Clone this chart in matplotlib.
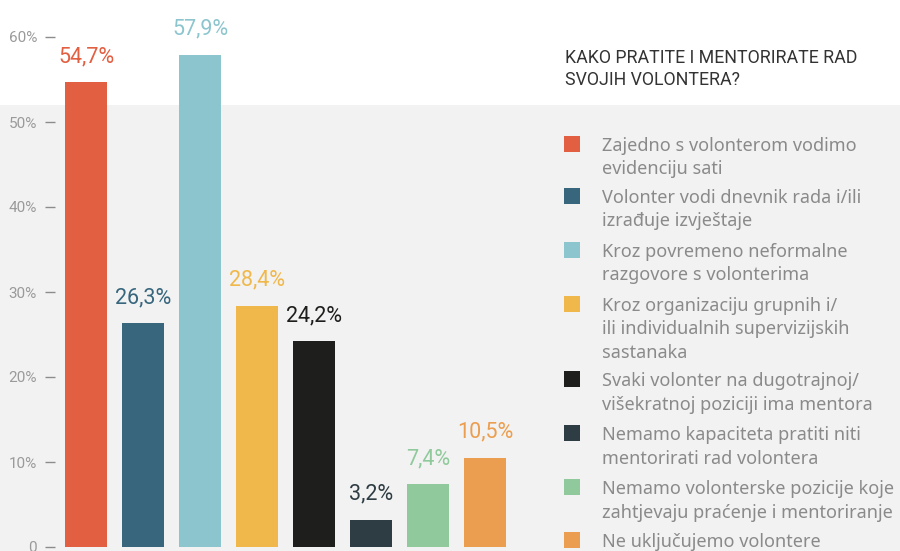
import matplotlib
matplotlib.use("Agg")
import matplotlib.pyplot as plt
from matplotlib.patches import Rectangle

# ---- data ----
categories = [
    "Zajedno s volonterom vodimo\nevidenciju sati",
    "Volonter vodi dnevnik rada i/ili\nizrađuje izvještaje",
    "Kroz povremeno neformalne\nrazgovore s volonterima",
    "Kroz organizaciju grupnih i/\nili individualnih supervizijskih\nsastanaka",
    "Svaki volonter na dugotrajnoj/\nvišekratnoj poziciji ima mentora",
    "Nemamo kapaciteta pratiti niti\nmentorirati rad volontera",
    "Nemamo volonterske pozicije koje\nzahtjevaju praćenje i mentoriranje",
    "Ne uključujemo volontere",
]
values = [54.7, 26.3, 57.9, 28.4, 24.2, 3.2, 7.4, 10.5]
value_labels = ["54,7%", "26,3%", "57,9%", "28,4%", "24,2%", "3,2%", "7,4%", "10,5%"]
colors = ["#e25f42", "#37667d", "#8dc5cf", "#f0b84b", "#1e1e1c", "#2e3c43", "#90c99b", "#eb9e50"]
yticks = [0, 10, 20, 30, 40, 50, 60]
ytick_labels = ["0", "10%", "20%", "30%", "40%", "50%", "60%"]
title = "KAKO PRATITE I MENTORIRATE RAD\nSVOJIH VOLONTERA?"

W, H = 900, 551
fig = plt.figure(figsize=(W / 100, H / 100), dpi=100, facecolor="white")

def fx(px):
    return px / W

def fy(py):
    return 1 - py / H

# grey band
fig.patches.append(Rectangle((0, 0), 1, fy(105), transform=fig.transFigure,
                             facecolor="#f2f2f2", edgecolor="none", zorder=-10))

ax_left, ax_right = 55, 520
ax_bottom, ax_top = 547, 37
ax = fig.add_axes([fx(ax_left), fy(ax_bottom), fx(ax_right - ax_left), fy(ax_top) - fy(ax_bottom)])
ax.set_facecolor("none")
ax.set_zorder(1)
step = 57.0
ax.set_xlim(-(86 - ax_left) / step, 7 + (ax_right - 485) / step)
ax.set_ylim(0, 60)

x = list(range(len(values)))
ax.bar(x, values, width=42 / step, color=colors, zorder=2, clip_on=False)

for xi, v, lab, c in zip(x, values, value_labels, colors):
    ax.annotate(lab, (xi, v), xytext=(0, 14.4), textcoords="offset points",
                ha="center", va="baseline", color=c, fontsize=15.5,
                family="Roboto", clip_on=False)

for s in ax.spines.values():
    s.set_visible(False)
ax.set_xticks([])
ax.set_yticks(yticks)
ax.set_yticklabels(ytick_labels)
ax.tick_params(axis="y", direction="out", length=7.2, width=1.0, color="#8c8c8c",
               pad=5.8, labelsize=11, labelcolor="#9a9a9a")
for t in ax.get_yticklabels():
    t.set_family("Roboto")

# title (one text per line, baselines in px)
for i, line in enumerate(title.split("\n")):
    fig.text(fx(565), fy(63 + 22 * i), line, ha="left", va="baseline", fontsize=12.8,
             color="#333333", family="Roboto", zorder=3)

# legend
centers = [144, 196, 250, 304, 379, 433, 487, 540]
line_gap = 23.5
for cy, lab, c in zip(centers, categories, colors):
    fig.patches.append(Rectangle((fx(564), fy(cy + 8)), fx(16), fy(cy - 8) - fy(cy + 8),
                                 transform=fig.transFigure, facecolor=c, edgecolor="none",
                                 zorder=3))
    for j, line in enumerate(lab.split("\n")):
        fig.text(fx(602), fy(cy + 7 + line_gap * j), line, ha="left", va="baseline",
                 fontsize=13, color="#8a8a8a", family="Noto Sans", zorder=3)

fig.savefig("out.png", dpi=100, facecolor="white")
